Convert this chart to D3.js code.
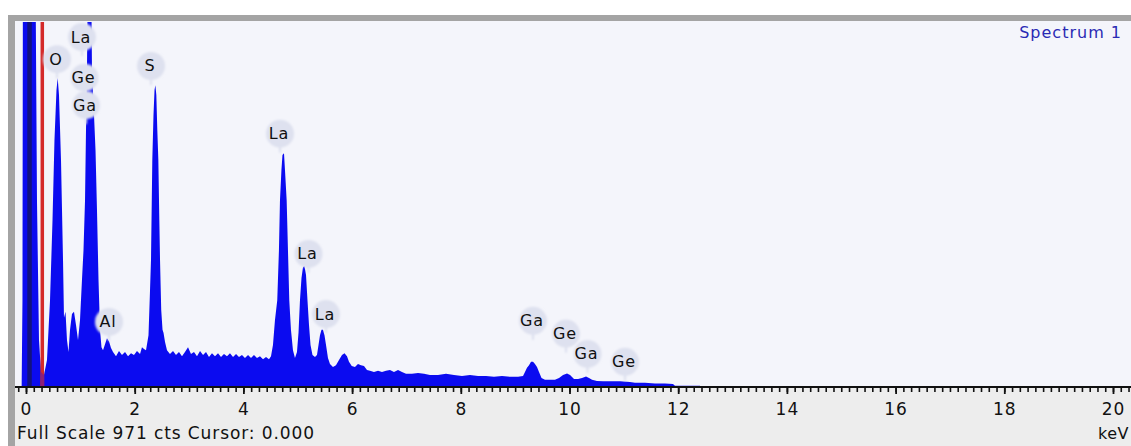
<!DOCTYPE html>
<html>
<head>
<meta charset="utf-8">
<script src="https://cdn.jsdelivr.net/npm/d3@7/dist/d3.min.js"></script>
<style>
  html, body { margin: 0; padding: 0; background: #ffffff; }
  svg { display: block; }
  text { font-family: "DejaVu Sans", Verdana, sans-serif; }
</style>
</head>
<body>
<svg id="chart" width="1131" height="446"></svg>
<script>
// EDS spectrum: energy (keV) and counts per channel
const energy = [
  -0.080, -0.065, -0.055, 0.166, 0.202, 0.239, 0.276, 0.331, 0.386, 0.442,
  0.488, 0.524, 0.561, 0.583, 0.607, 0.644, 0.681, 0.699, 0.727, 0.754,
  0.782, 0.810, 0.846, 0.883, 0.920, 0.957, 0.994, 1.030, 1.058, 1.086,
  1.104, 1.122, 1.146, 1.190, 1.214, 1.251, 1.279, 1.306, 1.334, 1.362,
  1.389, 1.417, 1.454, 1.490, 1.527, 1.564, 1.601, 1.656, 1.711, 1.766,
  1.822, 1.877, 1.932, 1.987, 2.042, 2.098, 2.134, 2.171, 2.208, 2.254,
  2.282, 2.300, 2.324, 2.346, 2.365, 2.380, 2.398, 2.416, 2.435, 2.453,
  2.466, 2.488, 2.512, 2.530, 2.558, 2.594, 2.649, 2.705, 2.760, 2.815,
  2.870, 2.925, 2.981, 3.036, 3.091, 3.146, 3.202, 3.257, 3.312, 3.367,
  3.422, 3.477, 3.533, 3.588, 3.643, 3.698, 3.753, 3.809, 3.864, 3.919,
  3.974, 4.029, 4.085, 4.140, 4.195, 4.250, 4.305, 4.361, 4.416, 4.471,
  4.508, 4.544, 4.581, 4.623, 4.654, 4.673, 4.700, 4.719, 4.747, 4.765,
  4.796, 4.820, 4.844, 4.875, 4.912, 4.949, 4.986, 5.014, 5.041, 5.069,
  5.097, 5.124, 5.152, 5.179, 5.207, 5.235, 5.271, 5.317, 5.354, 5.382,
  5.409, 5.437, 5.464, 5.492, 5.520, 5.556, 5.593, 5.648, 5.703, 5.759,
  5.814, 5.860, 5.906, 5.943, 5.993, 6.053, 6.108, 6.164, 6.219, 6.274,
  6.329, 6.403, 6.477, 6.550, 6.624, 6.697, 6.771, 6.845, 6.918, 6.992,
  7.102, 7.213, 7.323, 7.433, 7.581, 7.728, 7.875, 8.022, 8.169, 8.317,
  8.464, 8.611, 8.758, 8.906, 9.053, 9.145, 9.181, 9.218, 9.255, 9.292,
  9.329, 9.365, 9.402, 9.439, 9.485, 9.549, 9.641, 9.733, 9.807, 9.881,
  9.954, 10.010, 10.083, 10.157, 10.231, 10.304, 10.359, 10.414, 10.506, 10.617,
  10.745, 10.929, 11.113, 11.205, 11.389, 11.573, 11.757, 11.904, 11.941, 12.401,
  12.420, 20.40
];
const counts = [
  0, 231, 1300, 1300, 497, 125, 40, 32, 72, 231,
  444, 657, 790, 822, 777, 604, 338, 184, 200, 125,
  93, 152, 194, 200, 165, 125, 178, 285, 364, 497,
  684, 843, 1250, 1250, 843, 724, 630, 471, 285, 152,
  106, 98, 114, 130, 122, 104, 93, 82, 96, 85,
  93, 82, 90, 85, 96, 88, 106, 101, 98, 138,
  258, 338, 604, 724, 790, 803, 777, 684, 604, 444,
  338, 205, 152, 144, 120, 98, 88, 96, 85, 93,
  82, 93, 106, 88, 93, 82, 96, 85, 93, 80,
  90, 82, 90, 80, 88, 82, 90, 80, 88, 80,
  85, 77, 85, 77, 85, 77, 82, 74, 80, 74,
  82, 112, 178, 231, 364, 497, 577, 617, 622, 577,
  497, 364, 231, 152, 98, 77, 93, 144, 231, 290,
  319, 322, 298, 231, 165, 112, 85, 80, 85, 112,
  138, 152, 152, 138, 112, 77, 61, 53, 58, 72,
  85, 90, 82, 67, 56, 53, 61, 58, 56, 45,
  43, 40, 43, 40, 43, 45, 40, 45, 40, 35,
  35, 37, 35, 32, 32, 35, 32, 29, 32, 29,
  29, 27, 29, 27, 27, 29, 40, 51, 58, 67,
  67, 61, 53, 40, 24, 19, 19, 19, 24, 32,
  36, 32, 21, 21, 24, 28, 24, 19, 16, 15,
  15, 15, 13, 11, 11, 9, 9, 8, 3, 3,
  0, 0
];

// Element line labels: text, energy (keV) and height (counts) of the label centre
const labelText   = ["La", "O", "Ge", "Ga", "S", "La", "La", "La", "Al", "Ga", "Ge", "Ga", "Ge"];
const labelEnergy = [1.012, 0.552, 1.058, 1.086, 2.282, 4.655, 5.179, 5.501, 1.509, 9.310, 9.917, 10.313, 11.003];
const labelCounts = [931, 872, 823, 750, 854, 674, 354, 194, 173, 176, 142, 88, 67];

// Axis labels and markers
const xTickLabels = [0, 2, 4, 6, 8, 10, 12, 14, 16, 18, 20];
const fullScale = 971;
const zeroMarker = 0.065;   // keV, zero-strobe line
const cursorMarker = 0.30;  // keV, cursor line
const footerText = "Full Scale " + fullScale + " cts Cursor: 0.000";
const spectrumName = "Spectrum 1";
const unitLabel = "keV";

const W = 1131, H = 446;
const plot = { left: 15, top: 21, right: 1131, bottom: 387 };

const svg = d3.select("#chart");

const x = d3.scaleLinear().domain([0, 20]).range([26, 1113]);
const y = d3.scaleLinear().domain([0, fullScale]).range([387, 22]);

const defs = svg.append("defs");
defs.append("clipPath").attr("id", "plotClip")
  .append("rect")
  .attr("x", plot.left).attr("y", 22)
  .attr("width", plot.right - plot.left).attr("height", plot.bottom - 22);
defs.append("clipPath").attr("id", "cursorClip")
  .append("rect")
  .attr("x", x(cursorMarker) - 2).attr("y", 22)
  .attr("width", 4).attr("height", plot.bottom - 22);
const blur = defs.append("filter").attr("id", "soft")
  .attr("x", "-30%").attr("y", "-30%").attr("width", "160%").attr("height", "160%");
blur.append("feGaussianBlur").attr("stdDeviation", 1.2);

// Frame: plot background, lower strip and grey border
svg.append("rect").attr("x", 0).attr("y", 0).attr("width", W).attr("height", H).attr("fill", "#ffffff");
svg.append("rect").attr("x", plot.left).attr("y", plot.top)
  .attr("width", W - plot.left).attr("height", plot.bottom - plot.top).attr("fill", "#f4f5fb");
svg.append("rect").attr("x", plot.left).attr("y", plot.bottom)
  .attr("width", W - plot.left).attr("height", H - plot.bottom).attr("fill", "#ededed");
svg.append("rect").attr("x", 8).attr("y", 15).attr("width", W - 8).attr("height", 6).attr("fill", "#a4a4a4");
svg.append("rect").attr("x", 8).attr("y", 15).attr("width", 7).attr("height", H - 15).attr("fill", "#a4a4a4");

const pts = energy.map((e, i) => [e, counts[i]]);
const area = d3.area()
  .x(d => x(d[0]))
  .y0(y(0))
  .y1(d => y(d[1]));

const g = svg.append("g").attr("clip-path", "url(#plotClip)");

// Spectrum fill
g.append("path").datum(pts).attr("d", area).attr("fill", "#0b0bf0");

// Zero-strobe marker
g.append("line")
  .attr("x1", x(zeroMarker)).attr("x2", x(zeroMarker))
  .attr("y1", 22).attr("y2", plot.bottom)
  .attr("stroke", "#12127e").attr("stroke-width", 4.5);

// Cursor marker; purple where it crosses the filled spectrum
g.append("line")
  .attr("x1", x(cursorMarker)).attr("x2", x(cursorMarker))
  .attr("y1", 22).attr("y2", plot.bottom)
  .attr("stroke", "#d42a2a").attr("stroke-width", 3.5);
g.append("path").datum(pts).attr("d", area)
  .attr("clip-path", "url(#cursorClip)").attr("fill", "#8c1f78");

// Element labels with soft halo
const labels = svg.append("g");
labelText.forEach((t, i) => {
  const cx = x(labelEnergy[i]), cy = y(labelCounts[i]);
  const lg = labels.append("g").attr("filter", "url(#soft)");
  lg.append("line")
    .attr("x1", cx + 1).attr("x2", cx + 1)
    .attr("y1", cy + 10).attr("y2", cy + 19)
    .attr("stroke", "#dcdfee").attr("stroke-width", 2);
  lg.append("circle").attr("cx", cx + 1).attr("cy", cy).attr("r", 14)
    .attr("fill", "#dee1ef");
  labels.append("text")
    .attr("x", cx).attr("y", cy + 5.5)
    .attr("text-anchor", "middle")
    .attr("font-size", 16).attr("letter-spacing", 0.8)
    .attr("fill", "#111")
    .text(t);
});

// Axis: baseline, minor/medium ticks, labels
const axisG = svg.append("g");
axisG.append("line")
  .attr("x1", plot.left).attr("x2", W)
  .attr("y1", 387).attr("y2", 387)
  .attr("stroke", "#111").attr("stroke-width", 2);

const minorTicks = d3.range(-1, 143).map(k => k * 2 / 14).filter(v => x(v) > plot.left + 1 && x(v) < W);
axisG.append("g")
  .attr("transform", "translate(0,387)")
  .call(d3.axisBottom(x).tickValues(minorTicks).tickSize(5).tickFormat(""))
  .call(s => s.select(".domain").remove())
  .call(s => s.selectAll(".tick line").attr("stroke", "#111").attr("stroke-width", 1.6));

axisG.append("g")
  .attr("transform", "translate(0,387)")
  .call(d3.axisBottom(x).tickValues(xTickLabels).tickSize(7).tickPadding(9).tickFormat(d3.format("d")))
  .call(s => s.select(".domain").remove())
  .call(s => s.selectAll(".tick line").attr("stroke", "#111").attr("stroke-width", 1.8))
  .call(s => s.selectAll(".tick text")
    .attr("font-family", "DejaVu Sans, Verdana, sans-serif")
    .attr("font-size", 17).attr("letter-spacing", 1)
    .attr("fill", "#111"));

// Footer text and unit
svg.append("text")
  .attr("x", 17).attr("y", 439)
  .attr("font-size", 17).attr("letter-spacing", 0.9)
  .attr("fill", "#111")
  .text(footerText);
svg.append("text")
  .attr("x", 1129).attr("y", 439)
  .attr("text-anchor", "end")
  .attr("font-size", 16).attr("letter-spacing", 0.5)
  .attr("fill", "#111")
  .text(unitLabel);

// Spectrum name
svg.append("text")
  .attr("x", 1122).attr("y", 38)
  .attr("text-anchor", "end")
  .attr("font-size", 16).attr("letter-spacing", 1)
  .attr("fill", "#2a2ab4")
  .text(spectrumName);
</script>
</body>
</html>
